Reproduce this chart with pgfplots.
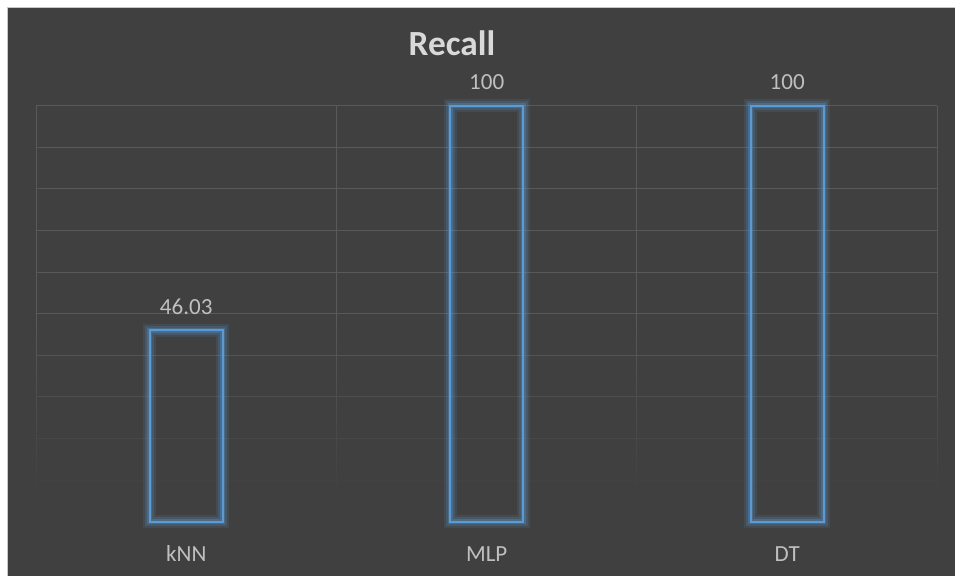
\documentclass[border=0pt]{standalone}
\usepackage{fontspec}
\setmainfont{Carlito}
\usepackage{pgfplots}
\pgfplotsset{compat=1.18}
\usetikzlibrary{fadings}
\definecolor{chartbg}{HTML}{404040}
\definecolor{gridc}{HTML}{595959}
\definecolor{labeltext}{HTML}{BFBFBF}
\definecolor{titletext}{HTML}{D9D9D9}
\definecolor{barblue}{HTML}{5B9BD5}

\begin{document}
\begin{tikzpicture}
% chart area
\fill[white] (-5pt,-5pt) rectangle (721pt,431.25pt);
\fill[chartbg] (5.25pt,-5pt) rectangle (721pt,426pt);
\draw[black!22, line width=0.6pt] (5.25pt,-5pt) -- (5.25pt,426pt) -- (721pt,426pt);
\node[anchor=base, text=titletext, font=\fontsize{26.5}{30}\selectfont\bfseries] at (339pt,389.25pt) {Recall};
\begin{axis}[
  at={(27pt,40pt)}, anchor=south west,
  scale only axis, width=676.1pt, height=312pt,
  xmin=-0.5, xmax=2.5, ymin=0, ymax=100,
  xtick={0,1,2}, xticklabels={kNN,MLP,DT},
  minor xtick={-0.5,0.5,1.5,2.5},
  ytick={0,10,...,100}, yticklabels={},
  xminorgrids, ymajorgrids, xmajorgrids=false,
  grid style={gridc, line width=0.75pt},
  minor grid style={gridc, line width=0.75pt},
  axis line style={draw=none},
  major tick length=0pt, minor tick length=0pt,
  tick style={draw=none},
  xticklabel style={anchor=base, inner sep=0pt, yshift=-30.2pt,
    font=\fontsize{17.3}{20}\selectfont, text=labeltext},
  clip=false,
  /pgf/number format/assume math mode=true,
  ybar, bar width=54.75pt,
]
% grid fades out towards the baseline
\fill[chartbg, path fading=north] (axis cs:-0.53,5) rectangle (axis cs:2.53,48);
\fill[chartbg] (axis cs:-0.53,-1.5) rectangle (axis cs:2.53,5);

% glow around the outlined bars
\addplot[bar shift=0pt, draw=barblue, draw opacity=0.12, line width=10pt, fill=none]
  coordinates {(0,46.03) (1,100) (2,100)};
\addplot[bar shift=0pt, draw=barblue, draw opacity=0.18, line width=6.5pt, fill=none]
  coordinates {(0,46.03) (1,100) (2,100)};
\addplot[bar shift=0pt, draw=barblue, draw opacity=0.28, line width=3.75pt, fill=none]
  coordinates {(0,46.03) (1,100) (2,100)};
% recall per model
\addplot[bar shift=0pt, draw=barblue, line width=1.5pt, fill=none,
  nodes near coords,
  every node near coord/.append style={anchor=base, inner sep=0pt, yshift=11.8pt,
    font=\fontsize{17.3}{20}\selectfont, text=labeltext}]
  coordinates {(0,46.03) (1,100) (2,100)};
\end{axis}
\pgfresetboundingbox
\useasboundingbox (0,0) rectangle (716.25pt,431.25pt);
\end{tikzpicture}
\end{document}
